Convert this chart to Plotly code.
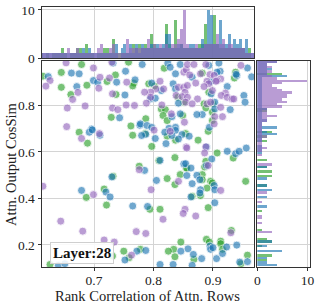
import plotly.graph_objects as go

# ---- scatter data ----
purple_x = [0.653,0.699,0.730,0.626,0.619,0.673,0.664,0.710,0.708,0.726,0.731,0.655,0.685,0.731,0.654,0.679,0.801,
            0.851,0.855,0.755,0.811,0.804,0.817,0.795,0.785,0.842,0.851,0.853,0.795,0.788,0.838,0.848,0.814,0.768,0.754,0.740,0.830,
            0.857,0.868,0.888,0.947,0.861,0.879,0.895,0.902,0.913,0.907,0.857,0.871,0.890,0.893,0.905,0.885,0.899,0.921,0.914,0.924,0.932,0.935,0.874,0.857,0.854,0.865,0.890,0.896,0.913,0.916,0.903,0.852,0.902,
            0.709,0.614,0.699,
            0.828,0.855,0.776,0.842,0.796,
            0.856,0.888,0.886,0.892,0.913,
            0.644,0.681,0.771,0.787,0.717,0.734,0.763,
            0.816,0.853,0.850,0.871,0.930]
purple_y = [0.982,0.960,0.985,0.906,0.882,0.855,0.825,0.920,0.873,0.917,0.849,0.788,0.797,0.788,0.708,0.657,0.693,
            0.942,0.952,0.899,0.903,0.870,0.870,0.856,0.856,0.877,0.877,0.856,0.834,0.809,0.842,0.837,0.801,0.799,0.801,0.781,0.763,
            0.975,0.975,0.975,0.971,0.930,0.935,0.932,0.928,0.913,0.906,0.885,0.895,0.903,0.892,0.903,0.880,0.863,0.852,0.842,0.834,0.827,0.827,0.827,0.834,0.813,0.806,0.806,0.813,0.791,0.751,0.751,0.727,0.720,
            0.678,0.452,0.416,
            0.688,0.621,0.523,0.473,0.437,
            0.616,0.621,0.595,0.541,0.434,
            0.302,0.259,0.257,0.249,0.221,0.212,0.156,
            0.310,0.353,0.335,0.324,0.252]

green_x = [0.679,0.614,0.645,0.645,0.688,0.661,0.722,0.729,
           0.689,0.675,0.765,0.762,0.787,0.797,
           0.758,0.818,0.736,0.767,0.765,0.792,0.802,0.737,0.841,0.851,0.813,0.820,0.816,0.823,0.849,
           0.882,0.938,0.936,0.893,0.885,0.900,0.888,0.899,0.899,
           0.732,0.717,0.687,
           0.786,0.823,0.837,0.809,0.776,0.855,0.845,0.823,0.836,
           0.854,0.892,0.875,0.907,0.934,0.888,0.886,0.856,0.882,0.882,0.896,0.899,0.890,0.955,0.865,0.879,
           0.721,0.794,0.750,0.778,0.731,0.759,0.626,
           0.836,0.892,0.811,0.931,0.846,0.889,0.894,0.913,0.913,0.916,0.834,0.825,0.836,0.868,0.958,0.947]
green_y = [0.975,0.925,0.941,0.877,0.886,0.846,0.902,0.748,
           0.637,0.684,0.671,0.711,0.742,0.623,
           0.985,0.959,0.930,0.895,0.883,0.892,0.883,0.846,0.834,0.813,0.784,0.781,0.756,0.734,0.756,
           0.938,0.942,0.917,0.856,0.806,0.806,0.788,0.770,0.734,
           0.495,0.440,0.404,
           0.678,0.667,0.650,0.562,0.538,0.530,0.502,0.485,0.459,
           0.678,0.688,0.650,0.595,0.573,0.559,0.535,0.530,0.502,0.480,0.473,0.466,0.444,0.473,0.409,0.412,
           0.371,0.353,0.173,0.181,0.152,0.145,0.116,
           0.575,0.360,0.353,0.262,0.212,0.224,0.212,0.216,0.205,0.181,0.181,0.173,0.149,0.138,0.156,0.119]

blue_x = [0.623,0.662,0.675,0.671,0.699,0.706,0.696,
          0.692,0.697,0.710,0.743,0.777,0.787,
          0.732,0.781,0.824,0.828,0.845,0.837,0.753,0.769,0.738,0.797,0.813,0.833,0.837,0.752,0.795,0.803,0.842,0.831,0.845,0.778,0.789,0.797,0.826,0.837,
          0.893,0.910,0.958,0.912,0.865,0.907,0.940,0.897,0.924,0.952,0.897,0.903,0.903,0.929,0.954,0.882,0.873,0.894,0.965,0.939,
          0.730,0.679,0.720,0.727,
          0.780,0.803,0.819,0.837,0.831,0.848,0.842,0.821,0.811,0.785,0.851,0.805,
          0.860,0.889,0.924,0.938,0.944,0.956,0.898,0.889,0.854,0.863,0.856,0.873,0.878,0.865,0.902,0.903,0.879,0.878,0.863,
          0.790,0.765,0.772,0.787,0.752,0.640,0.651,
          0.903,0.895,0.896,0.900,0.923,0.940,0.858,0.846,0.867,0.881,0.906,0.916,0.945,0.958,0.833,0.865,0.811]
blue_y = [0.923,0.938,0.935,0.880,0.906,0.899,0.698,
          0.684,0.694,0.671,0.746,0.714,0.675,
          0.981,0.975,0.981,0.963,0.975,0.935,0.946,0.909,0.899,0.895,0.863,0.892,0.870,0.844,0.827,0.830,0.809,0.751,0.763,0.720,0.713,0.705,0.701,0.705,
          0.971,0.981,0.960,0.946,0.920,0.942,0.928,0.903,0.880,0.842,0.849,0.813,0.784,0.781,0.813,0.760,0.760,0.705,0.922,0.933,
          0.492,0.434,0.427,0.406,
          0.670,0.657,0.684,0.692,0.670,0.674,0.655,0.635,0.563,0.520,0.548,0.477,
          0.667,0.621,0.602,0.592,0.602,0.616,0.569,0.541,0.549,0.530,0.498,0.499,0.480,0.463,0.455,0.437,0.437,0.423,0.406,
          0.365,0.367,0.173,0.176,0.135,0.112,0.119,
          0.381,0.195,0.181,0.188,0.191,0.199,0.183,0.173,0.159,0.141,0.141,0.163,0.126,0.128,0.116,0.112,0.116]

# ---- marginal histogram counts ----
top_bin_start, top_bin_width = 0.609, 0.005      # 72 bins along the x axis
purple_top = [1,1,1,1,1,1,1,1,1,2, 1,1,2,1,1,1,1,1,1,2, 3,1,1,2,3,1,1,1,1,4,
              2,2,2,2,2,2,4,2,3,2, 3,2,3,2,3,3,4,6,10,3, 2,2,3,2,2,3,3,3,3,5,
              3,4,2,3,3,2,2,2,2,1, 1,1]
blue_top = [1,1,1,1,1,1,1,1,1,1, 1,1,1,1,2,1,2,1,1,1, 1,1,1,1,1,3,0,2,3,1,
            3,1,3,1,3,2,2,3,2,3, 2,3,5,5,2,2,3,3,2,2, 3,3,2,2,4,3,10,9,3,3,
            8,3,3,5,2,4,3,4,2,4, 1,1]
green_top = [1,0,1,0,1,1,1,2,1,0, 1,1,2,2,1,3,1,1,0,1, 1,2,2,1,4,1,1,1,1,1,
             1,3,2,3,2,3,2,5,3,2, 2,2,7,3,2,8,2,3,2,2, 2,2,2,3,3,7,3,3,9,3,
             2,2,2,2,2,2,2,2,2,1, 2,0]

right_bin_start, right_bin_width = 0.10, 0.01    # 90 bins along the y axis
purple_right = [0,0,0,0,0,0,0,0,0,0, 0,0,0,0,0,3,0,0,0,1, 0,1,1,0,0,0,0,0,1,0,
                0,0,2,0,0,0,0,0,0,0, 0,0,0,0,3,0,0,0,1,0, 1,2,1,1,1,1,2,1,1,1,
                1,1,1,2,2,4,2,2,2,5, 4,6,5,6,6,7,5,4,3,5, 10,4,3,2,3,2,3,2,4,1]
blue_right = [0,4,2,0,2,0,0,5,0,2, 0,3,0,0,0,0,0,0,0,0, 0,0,0,0,0,0,2,0,0,0,
              2,0,0,3,0,2,0,0,2,0, 0,0,0,2,0,0,0,0,0,1, 1,1,1,0,1,1,1,4,2,1,
              4,1,1,2,1,1,1,1,2,1, 1,1,1,1,1,1,1,1,1,1, 1,1,6,2,2,3,2,2,4,0]
green_right = [0,0,0,2,0,3,0,0,0,1, 0,3,2,0,0,0,1,0,0,0, 0,0,0,0,1,0,0,0,0,0,
               0,0,0,0,0,2,0,0,0,3, 0,3,0,2,0,0,2,0,0,0, 0,0,0,0,2,0,2,0,3,0,
               0,0,0,0,0,0,0,2,2,0, 0,0,0,0,0,0,0,0,0,0, 0,0,0,5,0,0,0,0,0,0]

x_ticks = [0.7, 0.8, 0.9]
y_ticks = [0.2, 0.4, 0.6, 0.8]
count_ticks = [0, 10]
layer_label = "Layer:28"
x_title = "Rank Correlation of Attn. Rows"
y_title = "Attn. Output CosSim"

# ---- styling ----
FONT = "Liberation Serif"
C_PURPLE = "#9467bd"
C_GREEN = "#2ca02c"
C_BLUE = "#1f77b4"
AX = "#333333"
GRID = "#d4d4d4"

top_centers = [top_bin_start + top_bin_width * (i + 0.5) for i in range(len(purple_top))]
right_centers = [right_bin_start + right_bin_width * (i + 0.5) for i in range(len(purple_right))]

series = [(green_x, green_y, green_top, green_right, C_GREEN),
          (blue_x, blue_y, blue_top, blue_right, C_BLUE),
          (purple_x, purple_y, purple_top, purple_right, C_PURPLE)]

fig = go.Figure()
for xs, ys, tc, rc, col in series:
    fig.add_trace(go.Scatter(x=xs, y=ys, mode="markers",
                             marker=dict(size=8, color=col, opacity=0.64,
                                         line=dict(color="white", width=0.8)),
                             xaxis="x", yaxis="y", showlegend=False, hoverinfo="skip"))
for xs, ys, tc, rc, col in series:
    fig.add_trace(go.Bar(x=top_centers, y=tc, width=top_bin_width,
                         marker=dict(color=col, line=dict(width=0)), opacity=0.65,
                         xaxis="x2", yaxis="y2", showlegend=False, hoverinfo="skip"))
for xs, ys, tc, rc, col in series:
    fig.add_trace(go.Bar(y=right_centers, x=rc, width=right_bin_width, orientation="h",
                         marker=dict(color=col, line=dict(width=0)), opacity=0.65,
                         xaxis="x3", yaxis="y3", showlegend=False, hoverinfo="skip"))

W, H = 319, 305
xd_main = [41.7 / W, 254 / W]
yd_main = [(H - 267) / H, (H - 61) / H]
yd_top = [(H - 58) / H, (H - 7) / H]
xd_right = [257.3 / W, 310 / W]
xr = [0.612, 0.969]
yr = [0.105, 0.99]


def ax(ticks="outside", standoff=0, **kw):
    d = dict(showline=True, linecolor=AX, linewidth=1.3, mirror=True,
             showgrid=True, gridcolor=GRID, gridwidth=1, zeroline=False,
             ticks=ticks, ticklen=3, tickcolor=AX, automargin=False,
             ticklabelstandoff=standoff,
             tickfont=dict(family=FONT, size=13.5, color="#222"))
    d.update(kw)
    return d


fig.update_layout(
    template="none",
    width=W, height=H, margin=dict(l=0, r=0, t=0, b=0, pad=0),
    paper_bgcolor="white", plot_bgcolor="white",
    barmode="overlay", bargap=0, showlegend=False,
    xaxis=ax(standoff=-2, domain=xd_main, range=xr, tickvals=x_ticks, anchor="y"),
    yaxis=ax(domain=yd_main, range=yr, tickvals=y_ticks, anchor="x"),
    xaxis2=ax(ticks="", domain=xd_main, range=xr, tickvals=x_ticks, showticklabels=False, anchor="y2"),
    yaxis2=ax(domain=yd_top, range=[0, 10.6], tickvals=count_ticks, anchor="x2"),
    xaxis3=ax(standoff=-2, domain=xd_right, range=[0, 10.5], tickvals=count_ticks, anchor="y3"),
    yaxis3=ax(ticks="", domain=yd_main, range=yr, tickvals=y_ticks, showticklabels=False, anchor="x3"),
    annotations=[
        dict(text=x_title, xref="paper", yref="paper", x=(xd_main[0] + xd_main[1]) / 2,
             y=(H - 295.5) / H, showarrow=False, xanchor="center", yanchor="middle",
             font=dict(family=FONT, size=14.5, color="#222")),
        dict(text=y_title, xref="paper", yref="paper", x=11 / W, y=(H - 164) / H,
             showarrow=False, textangle=-90, xanchor="center", yanchor="middle",
             font=dict(family=FONT, size=14.5, color="#222")),
        dict(text="<b>" + layer_label + "</b>", xref="paper", yref="paper",
             x=82 / W, y=(H - 253) / H, showarrow=False, xanchor="center", yanchor="middle",
             font=dict(family=FONT, size=15, color="#111"),
             bgcolor="rgba(255,255,255,0.85)", bordercolor="#cfcfcf", borderwidth=1, borderpad=2),
    ],
)

fig.write_html("out.html", config={"displayModeBar": False},
               post_script="document.body.style.margin='0';document.body.style.overflow='hidden';")
